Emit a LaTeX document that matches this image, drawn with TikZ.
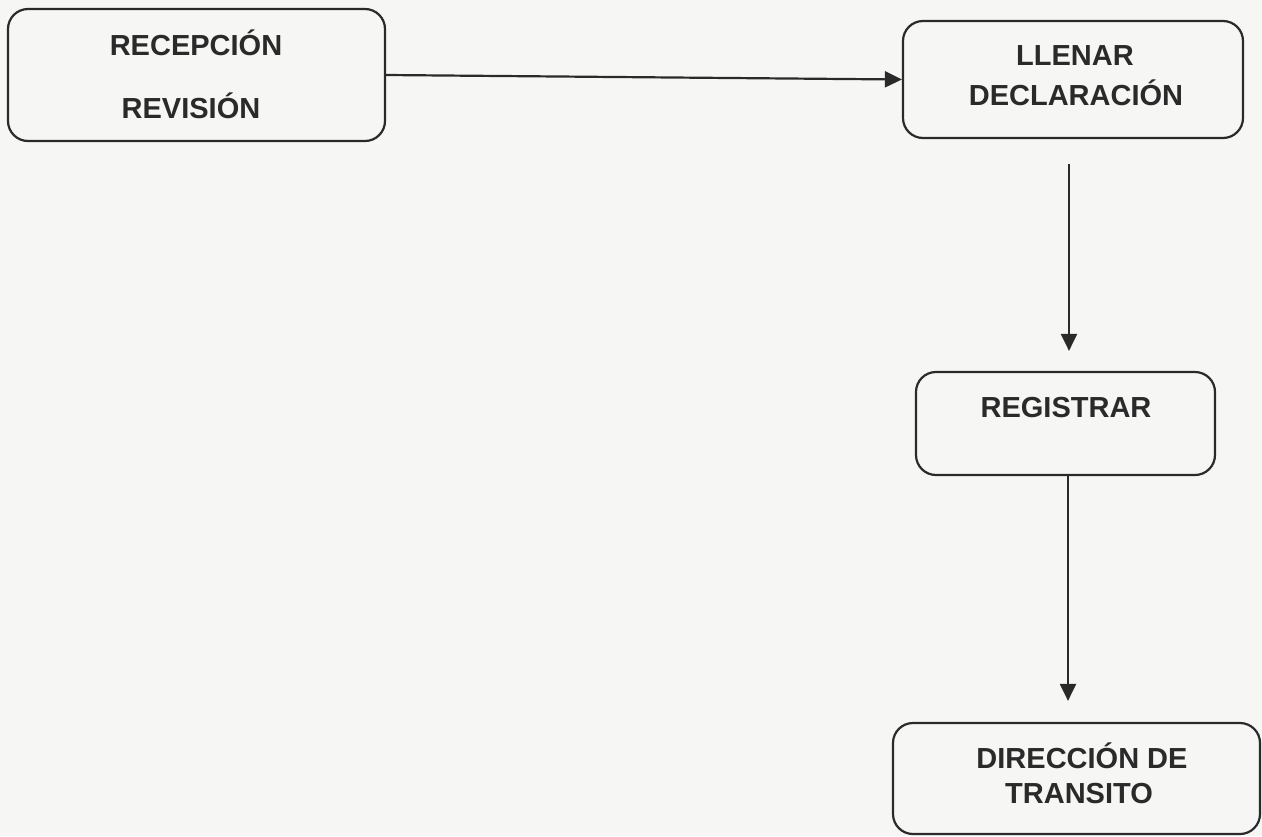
\documentclass[tikz,border=0pt]{standalone}
\usepackage{fontspec}
\setmainfont{Liberation Sans}
\usetikzlibrary{arrows.meta}
\definecolor{ink}{HTML}{2A2A2A}
\definecolor{paper}{HTML}{F6F6F4}
\tikzset{
  box/.style={draw=ink, line width=2.2pt, rounded corners=20pt, inner sep=0pt},
  txt/.style={text=ink, font=\fontsize{29}{30}\selectfont\bfseries, anchor=base, inner sep=0pt},
  arr/.style={draw=ink, line width=2.2pt, -{Triangle[length=17pt,width=16pt]}}
}
\begin{document}
\begin{tikzpicture}[x=1pt,y=-1pt]
\fill[paper] (0,0) rectangle (1262,836);
\useasboundingbox (0,0) rectangle (1262,836);
% boxes
\node[box, minimum width=377pt, minimum height=132pt] (b1) at (196.5,75) {};
\node[box, minimum width=340pt, minimum height=117pt] (b2) at (1073,79.5) {};
\node[box, minimum width=299pt, minimum height=103pt] (b3) at (1065.5,423.5) {};
\node[box, minimum width=367pt, minimum height=111pt] (b4) at (1076.5,778.5) {};
% texts
\node[txt] (t1a) at (196,55) {RECEPCIÓN};
\node[txt] (t1b) at (191,118) {REVISIÓN};
\node[txt] (t2a) at (1075,65) {LLENAR};
\node[txt] (t2b) at (1076,105) {DECLARACIÓN};
\node[txt] (t3) at (1066,417) {REGISTRAR};
\node[txt] (t4a) at (1082,768) {DIRECCIÓN DE};
\node[txt] (t4b) at (1079,803) {TRANSITO};
% connectors
\draw[arr] (b1.east) -- (b2.west);
\path (b2.south) ++(-4,0) coordinate (a2);
\draw[arr, shorten <=25pt, shorten >=20pt] (a2) -- (a2 |- b3.north);
\path (b3.south) ++(2.5,0) coordinate (a3);
\draw[arr, shorten >=21pt] (a3) -- (a3 |- b4.north);
\end{tikzpicture}
\end{document}
